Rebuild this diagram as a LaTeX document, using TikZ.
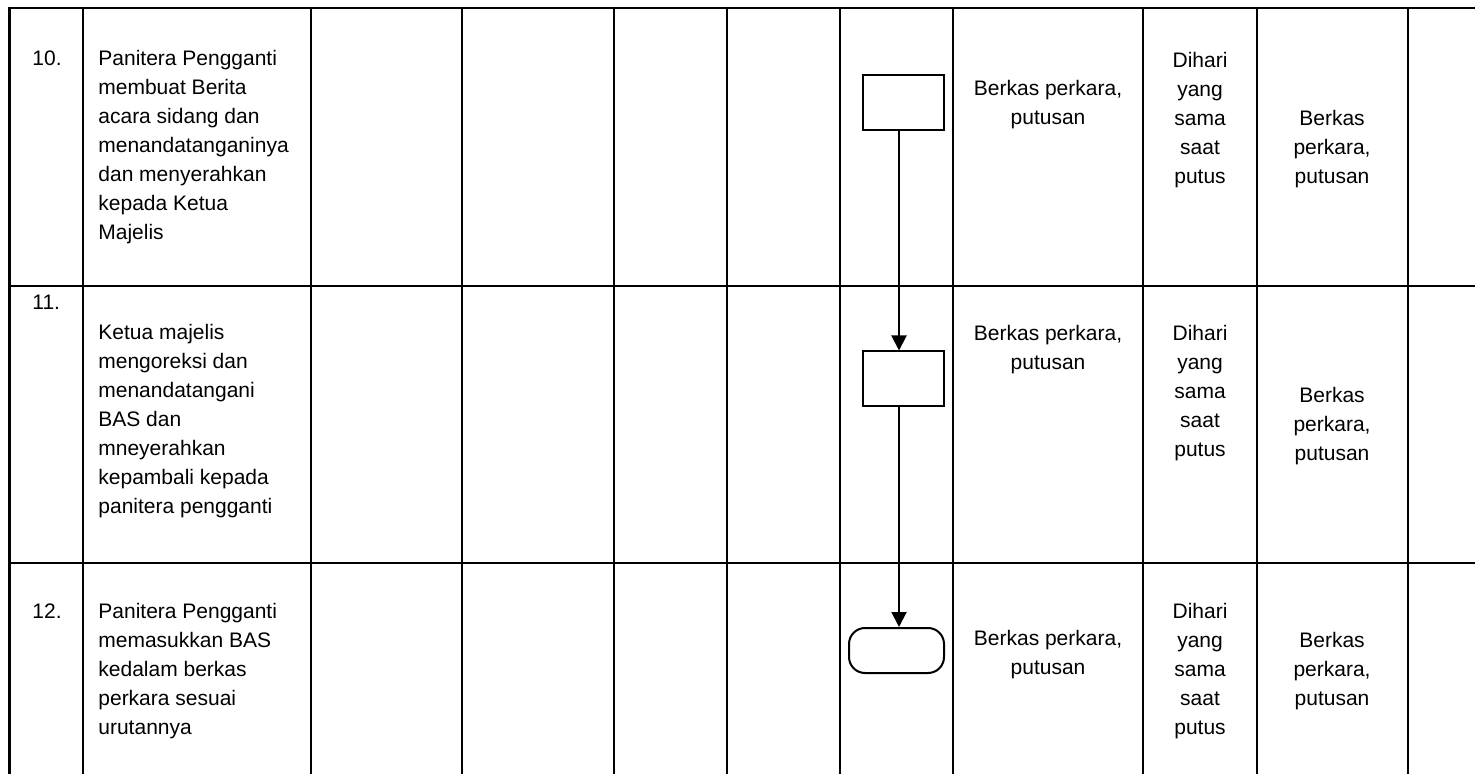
\documentclass[tikz,border=0pt]{standalone}
\usepackage{fontspec}
\setmainfont{Liberation Sans}
\usetikzlibrary{arrows.meta}
\begin{document}
\begin{tikzpicture}[x=0.5pt,y=-0.5pt,
  grid/.style={line width=1.35pt},
  txt/.style={font=\fontsize{10.5}{14.5}\selectfont, inner sep=0pt, anchor=north west, align=left},
  ctxt/.style={font=\fontsize{10.5}{14.5}\selectfont, inner sep=0pt, anchor=north, align=center},
  procbox/.style={draw, line width=1pt, minimum width=40.5pt, minimum height=27.5pt, inner sep=0pt},
  termbox/.style={draw, line width=1pt, rounded corners=8pt, minimum width=47.5pt, minimum height=22.5pt, inner sep=0pt},
  arr/.style={line width=1pt, -{Triangle[length=7.5pt,width=7.5pt]}}]
\path[use as bounding box, fill=white] (0,0) rectangle (1475,774);
% grid
\draw[grid] (9.5,774) -- (9.5,8) -- (1475,8);
\foreach \xx in {83,311,462,614,727,840,953,1143,1257,1408}
  \draw[grid] (\xx,8) -- (\xx,774);
\foreach \yy in {286,563}
  \draw[grid] (8.5,\yy) -- (1475,\yy);
% row 10
\node[txt] (n10) at (32,50) {10.};
\node[txt] (t10) at (98,50) {Panitera Pengganti\\membuat Berita\\acara sidang dan\\menandatanganinya\\dan menyerahkan\\kepada Ketua\\Majelis};
\node[ctxt] (b10) at (1048,80) {Berkas perkara,\\putusan};
\node[ctxt] (d10) at (1200,52) {Dihari\\yang\\sama\\saat\\putus};
\node[ctxt] (r10) at (1332,110) {Berkas\\perkara,\\putusan};
% row 11
\node[txt] (n11) at (32,295) {11.};
\node[txt] (t11) at (98,324) {Ketua majelis\\mengoreksi dan\\menandatangani\\BAS dan\\mneyerahkan\\kepambali kepada\\panitera pengganti};
\node[ctxt] (b11) at (1048,325) {Berkas perkara,\\putusan};
\node[ctxt] (d11) at (1200,325) {Dihari\\yang\\sama\\saat\\putus};
\node[ctxt] (r11) at (1332,387) {Berkas\\perkara,\\putusan};
% row 12
\node[txt] (n12) at (32,603) {12.};
\node[txt] (t12) at (98,603) {Panitera Pengganti\\memasukkan BAS\\kedalam berkas\\perkara sesuai\\urutannya};
\node[ctxt] (b12) at (1048,630) {Berkas perkara,\\putusan};
\node[ctxt] (d12) at (1200,603) {Dihari\\yang\\sama\\saat\\putus};
\node[ctxt] (r12) at (1332,632) {Berkas\\perkara,\\putusan};
% flow
\node[procbox] (p1) at (903.5,102.5) {};
\node[procbox] (p2) at (903.5,379) {};
\node[termbox] (e1) at (896.5,650.5) {};
\draw[arr] ([xshift=-2.25pt]p1.south) -- ([xshift=-2.25pt]p2.north);
\draw[arr] ([xshift=-2.25pt]p2.south) -- ([xshift=1.25pt]e1.north);
\end{tikzpicture}
\end{document}
